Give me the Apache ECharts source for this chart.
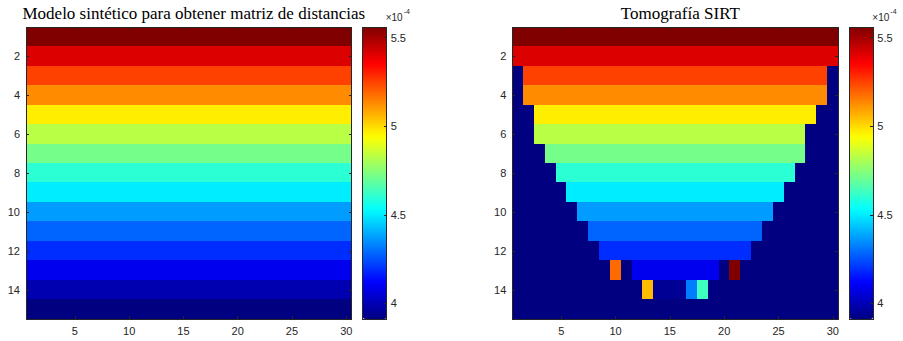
<!DOCTYPE html>
<html>
<head>
<meta charset="utf-8">
<script src="https://cdn.jsdelivr.net/npm/echarts@6/dist/echarts.min.js"></script>
<style>html,body{margin:0;padding:0;background:#fff;}#c{width:903px;height:341px;}#c svg path,#c svg rect{shape-rendering:crispEdges;}</style>
</head>
<body>
<div id="c"></div>
<script>
// ---- data (values in units of 1e-4) ----
const xCategories = [1,2,3,4,5,6,7,8,9,10,11,12,13,14,15,16,17,18,19,20,21,22,23,24,25,26,27,28,29,30];
const yCategories = [1,2,3,4,5,6,7,8,9,10,11,12,13,14,15];
const xTickLabels = [5,10,15,20,25,30];
const yTickLabels = [2,4,6,8,10,12,14];
const cbarTicks = [4,4.5,5,5.5];
const cbarMin = 3.912, cbarMax = 5.56;

// synthetic model: one value per row (top to bottom)
const modelRowValues = [5.56,5.41,5.25,5.13,4.97,4.83,4.72,4.60,4.50,4.37,4.28,4.19,4.09,3.99,3.912];

// SIRT tomography: covered columns per row, background value, isolated cells
const sirtRowValues   = [5.56,5.41,5.25,5.13,4.97,4.83,4.72,4.60,4.50,4.37,4.28,4.19,4.09,3.945,3.912];
const sirtRowFirstCol = [1,1,2,2,3,3,4,5,6,7,8,9,12,14,0];
const sirtRowLastCol  = [30,30,29,29,28,27,27,26,25,24,23,22,19,16,-1];
const sirtBackground  = 3.912;
const sirtIsolated = [ // [col,row,value]
  [10,13,5.18],[21,13,5.56],[13,14,5.05],[17,14,4.32],[18,14,4.63]
];

// ---- build cells ----
const modelData = [];
for (let r = 0; r < yCategories.length; r++)
  for (let c = 0; c < xCategories.length; c++)
    modelData.push([c, r, modelRowValues[r]]);

const sirtGrid = yCategories.map((_, r) => xCategories.map((x, c) =>
  (x >= sirtRowFirstCol[r] && x <= sirtRowLastCol[r]) ? sirtRowValues[r] : sirtBackground));
sirtIsolated.forEach(([col,row,v]) => { sirtGrid[row-1][col-1] = v; });
const sirtData = [];
sirtGrid.forEach((row, r) => row.forEach((v, c) => sirtData.push([c, r, v])));

// jet colormap (64 levels)
function jet(t){
  const cl = v => Math.max(0, Math.min(1, v));
  const r = cl(1.5 - Math.abs(4*t - 3)), g = cl(1.5 - Math.abs(4*t - 2)), b = cl(1.5 - Math.abs(4*t - 1));
  const h = v => Math.round(v*255).toString(16).padStart(2,'0');
  return '#' + h(r) + h(g) + h(b);
}
const jetColors = [];
for (let i = 0; i < 64; i++) jetColors.push(jet(i/63));

// ---- layout ----
const AX = '#262626';
const FONT = 'Liberation Sans';
const plots = [
  {left: 26, top: 27, width: 325.7, height: 292, title: 'Modelo sintético para obtener matriz de distancias', data: modelData, cbLeft: 362.7},
  {left: 512.3, top: 27, width: 326, height: 292, title: 'Tomografía SIRT', data: sirtData, cbLeft: 849.3}
];
const cbW = 24;

const grid = [], xAxis = [], yAxis = [], series = [], visualMap = [], title = [], graphic = [];
plots.forEach((p, i) => {
  const gi = grid.length;
  grid.push({left: p.left, top: p.top, width: p.width, height: p.height, containLabel: false, outerBoundsMode: 'none'});
  const xi = xAxis.length, yi = yAxis.length;
  const catX = (pos, labels) => ({
    type: 'category', gridIndex: gi, position: pos, data: xCategories, boundaryGap: true,
    axisLine: {show: true, onZero: false, lineStyle: {color: AX, width: 1}},
    axisTick: {show: true, inside: true, length: 3, alignWithLabel: true, interval: (idx, v) => xTickLabels.includes(+v), lineStyle: {color: AX}},
    axisLabel: {show: labels, interval: (idx, v) => xTickLabels.includes(+v), color: AX, fontFamily: FONT, fontSize: 11, margin: 6},
    splitLine: {show: false}, z: 10
  });
  const catY = (pos, labels) => ({
    type: 'category', gridIndex: gi, position: pos, data: yCategories, inverse: true, boundaryGap: true,
    axisLine: {show: true, onZero: false, lineStyle: {color: AX, width: 1}},
    axisTick: {show: true, inside: true, length: 3, alignWithLabel: true, interval: (idx, v) => yTickLabels.includes(+v), lineStyle: {color: AX}},
    axisLabel: {show: labels, interval: (idx, v) => yTickLabels.includes(+v), color: AX, fontFamily: FONT, fontSize: 11, margin: 6},
    splitLine: {show: false}, z: 10
  });
  xAxis.push(catX('bottom', true), catX('top', false));
  yAxis.push(catY('left', true), catY('right', false));
  series.push({type: 'heatmap', xAxisIndex: xi, yAxisIndex: yi, data: p.data, emphasis: {disabled: true}, progressive: 0});
  visualMap.push({
    type: 'continuous', seriesIndex: i, min: cbarMin, max: cbarMax, dimension: 2,
    inRange: {color: jetColors}, calculable: false, hoverLink: false,
    left: p.cbLeft, top: p.top, itemWidth: cbW, itemHeight: p.height, padding: 0, text: null, z: 1
  });
  // colorbar frame and ticks
  const cg = grid.length;
  grid.push({left: p.cbLeft, top: p.top, width: cbW, height: p.height, containLabel: false, outerBoundsMode: 'none'});
  const frameX = pos => ({type: 'value', gridIndex: cg, position: pos, min: 0, max: 1,
    axisLine: {show: true, onZero: false, lineStyle: {color: AX, width: 1}}, axisTick: {show: false}, axisLabel: {show: false}, splitLine: {show: false}, z: 10});
  xAxis.push(frameX('bottom'), frameX('top'));
  yAxis.push({type: 'value', gridIndex: cg, position: 'left', min: cbarMin, max: cbarMax,
    axisLine: {show: true, onZero: false, lineStyle: {color: AX, width: 1}}, axisTick: {show: false}, axisLabel: {show: false}, splitLine: {show: false}, z: 10});
  yAxis.push({type: 'value', gridIndex: cg, position: 'right', min: cbarMin, max: cbarMax,
    axisLine: {show: true, onZero: false, lineStyle: {color: AX, width: 1}},
    axisTick: {show: true, inside: true, length: 3, customValues: cbarTicks, lineStyle: {color: AX}},
    axisLabel: {show: true, customValues: cbarTicks, formatter: v => String(+v.toFixed(2)), color: AX, fontFamily: FONT, fontSize: 11, margin: 4},
    splitLine: {show: false}, z: 10});
  title.push({text: p.title, left: p.left + p.width/2, textAlign: 'center', top: 0,
    textStyle: {fontFamily: 'Liberation Serif', fontSize: 17, fontWeight: 'normal', color: '#000'}});
  graphic.push({type: 'text', left: p.cbLeft + 23, top: 12, style: {text: '×10', fontFamily: FONT, fontSize: 10, fill: AX}});
  graphic.push({type: 'text', left: p.cbLeft + 41, top: 8, style: {text: '-4', fontFamily: FONT, fontSize: 7, fill: AX}});
});

const chart = echarts.init(document.getElementById('c'), null, {renderer: 'svg'});
chart.setOption({animation: false, backgroundColor: '#fff', title, grid, xAxis, yAxis, series, visualMap, graphic});
</script>
</body>
</html>
